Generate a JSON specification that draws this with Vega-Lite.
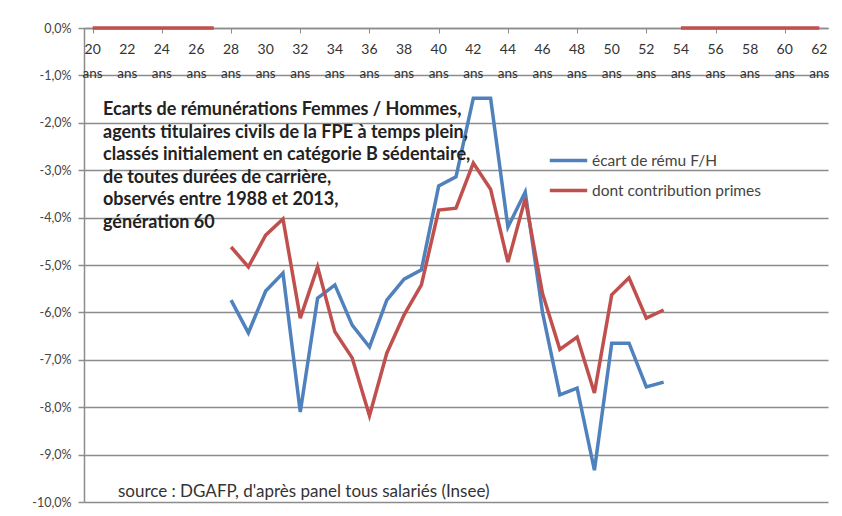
{
  "$schema": "https://vega.github.io/schema/vega-lite/v6.json",
  "width": 744,
  "height": 474,
  "autosize": {"type": "none"},
  "padding": {"left": 84, "top": 28, "right": 14, "bottom": 14},
  "background": "white",
  "config": {"view": {"stroke": null}, "font": "Lato"},
  "datasets": {
    "ticks": [{"t": 20}, {"t": 22}, {"t": 24}, {"t": 26}, {"t": 28}, {"t": 30}, {"t": 32}, {"t": 34}, {"t": 36}, {"t": 38}, {"t": 40}, {"t": 42}, {"t": 44}, {"t": 46}, {"t": 48}, {"t": 50}, {"t": 52}, {"t": 54}, {"t": 56}, {"t": 58}, {"t": 60}, {"t": 62}]
  },
  "data": {"values": [
    {"age": 28, "serie": "écart de rému F/H", "seg": "b", "ecart": -5.74},
    {"age": 29, "serie": "écart de rému F/H", "seg": "b", "ecart": -6.43},
    {"age": 30, "serie": "écart de rému F/H", "seg": "b", "ecart": -5.55},
    {"age": 31, "serie": "écart de rému F/H", "seg": "b", "ecart": -5.17},
    {"age": 32, "serie": "écart de rému F/H", "seg": "b", "ecart": -8.1},
    {"age": 33, "serie": "écart de rému F/H", "seg": "b", "ecart": -5.7},
    {"age": 34, "serie": "écart de rému F/H", "seg": "b", "ecart": -5.42},
    {"age": 35, "serie": "écart de rému F/H", "seg": "b", "ecart": -6.27},
    {"age": 36, "serie": "écart de rému F/H", "seg": "b", "ecart": -6.73},
    {"age": 37, "serie": "écart de rému F/H", "seg": "b", "ecart": -5.74},
    {"age": 38, "serie": "écart de rému F/H", "seg": "b", "ecart": -5.3},
    {"age": 39, "serie": "écart de rému F/H", "seg": "b", "ecart": -5.1},
    {"age": 40, "serie": "écart de rému F/H", "seg": "b", "ecart": -3.33},
    {"age": 41, "serie": "écart de rému F/H", "seg": "b", "ecart": -3.14},
    {"age": 42, "serie": "écart de rému F/H", "seg": "b", "ecart": -1.48},
    {"age": 43, "serie": "écart de rému F/H", "seg": "b", "ecart": -1.48},
    {"age": 44, "serie": "écart de rému F/H", "seg": "b", "ecart": -4.2},
    {"age": 45, "serie": "écart de rému F/H", "seg": "b", "ecart": -3.46},
    {"age": 46, "serie": "écart de rému F/H", "seg": "b", "ecart": -6.0},
    {"age": 47, "serie": "écart de rému F/H", "seg": "b", "ecart": -7.74},
    {"age": 48, "serie": "écart de rému F/H", "seg": "b", "ecart": -7.6},
    {"age": 49, "serie": "écart de rému F/H", "seg": "b", "ecart": -9.33},
    {"age": 50, "serie": "écart de rému F/H", "seg": "b", "ecart": -6.65},
    {"age": 51, "serie": "écart de rému F/H", "seg": "b", "ecart": -6.65},
    {"age": 52, "serie": "écart de rému F/H", "seg": "b", "ecart": -7.57},
    {"age": 53, "serie": "écart de rému F/H", "seg": "b", "ecart": -7.47},
    {"age": 20, "serie": "dont contribution primes", "seg": "a", "ecart": 0},
    {"age": 21, "serie": "dont contribution primes", "seg": "a", "ecart": 0},
    {"age": 22, "serie": "dont contribution primes", "seg": "a", "ecart": 0},
    {"age": 23, "serie": "dont contribution primes", "seg": "a", "ecart": 0},
    {"age": 24, "serie": "dont contribution primes", "seg": "a", "ecart": 0},
    {"age": 25, "serie": "dont contribution primes", "seg": "a", "ecart": 0},
    {"age": 26, "serie": "dont contribution primes", "seg": "a", "ecart": 0},
    {"age": 27, "serie": "dont contribution primes", "seg": "a", "ecart": 0},
    {"age": 28, "serie": "dont contribution primes", "seg": "b", "ecart": -4.62},
    {"age": 29, "serie": "dont contribution primes", "seg": "b", "ecart": -5.04},
    {"age": 30, "serie": "dont contribution primes", "seg": "b", "ecart": -4.37},
    {"age": 31, "serie": "dont contribution primes", "seg": "b", "ecart": -4.03},
    {"age": 32, "serie": "dont contribution primes", "seg": "b", "ecart": -6.12},
    {"age": 33, "serie": "dont contribution primes", "seg": "b", "ecart": -5.04},
    {"age": 34, "serie": "dont contribution primes", "seg": "b", "ecart": -6.41},
    {"age": 35, "serie": "dont contribution primes", "seg": "b", "ecart": -6.96},
    {"age": 36, "serie": "dont contribution primes", "seg": "b", "ecart": -8.18},
    {"age": 37, "serie": "dont contribution primes", "seg": "b", "ecart": -6.86},
    {"age": 38, "serie": "dont contribution primes", "seg": "b", "ecart": -6.05},
    {"age": 39, "serie": "dont contribution primes", "seg": "b", "ecart": -5.42},
    {"age": 40, "serie": "dont contribution primes", "seg": "b", "ecart": -3.84},
    {"age": 41, "serie": "dont contribution primes", "seg": "b", "ecart": -3.8},
    {"age": 42, "serie": "dont contribution primes", "seg": "b", "ecart": -2.85},
    {"age": 43, "serie": "dont contribution primes", "seg": "b", "ecart": -3.4},
    {"age": 44, "serie": "dont contribution primes", "seg": "b", "ecart": -4.94},
    {"age": 45, "serie": "dont contribution primes", "seg": "b", "ecart": -3.6},
    {"age": 46, "serie": "dont contribution primes", "seg": "b", "ecart": -5.6},
    {"age": 47, "serie": "dont contribution primes", "seg": "b", "ecart": -6.78},
    {"age": 48, "serie": "dont contribution primes", "seg": "b", "ecart": -6.52},
    {"age": 49, "serie": "dont contribution primes", "seg": "b", "ecart": -7.7},
    {"age": 50, "serie": "dont contribution primes", "seg": "b", "ecart": -5.63},
    {"age": 51, "serie": "dont contribution primes", "seg": "b", "ecart": -5.27},
    {"age": 52, "serie": "dont contribution primes", "seg": "b", "ecart": -6.12},
    {"age": 53, "serie": "dont contribution primes", "seg": "b", "ecart": -5.95},
    {"age": 54, "serie": "dont contribution primes", "seg": "c", "ecart": 0},
    {"age": 55, "serie": "dont contribution primes", "seg": "c", "ecart": 0},
    {"age": 56, "serie": "dont contribution primes", "seg": "c", "ecart": 0},
    {"age": 57, "serie": "dont contribution primes", "seg": "c", "ecart": 0},
    {"age": 58, "serie": "dont contribution primes", "seg": "c", "ecart": 0},
    {"age": 59, "serie": "dont contribution primes", "seg": "c", "ecart": 0},
    {"age": 60, "serie": "dont contribution primes", "seg": "c", "ecart": 0},
    {"age": 61, "serie": "dont contribution primes", "seg": "c", "ecart": 0},
    {"age": 62, "serie": "dont contribution primes", "seg": "c", "ecart": 0}
  ]},
  "layer": [
    {
      "mark": {"type": "line", "strokeWidth": 3.5},
      "encoding": {
        "x": {
          "field": "age", "type": "quantitative",
          "scale": {"domain": [19.5, 62.5], "nice": false, "zero": false},
          "axis": {
            "orient": "bottom", "offset": -474, "title": null, "grid": false, "labels": false,
            "values": [20,21,22,23,24,25,26,27,28,29,30,31,32,33,34,35,36,37,38,39,40,41,42,43,44,45,46,47,48,49,50,51,52,53,54,55,56,57,58,59,60,61,62],
            "domainColor": "#8c8c8c", "domainWidth": 1.5,
            "tickColor": "#8c8c8c", "tickSize": 5, "tickWidth": 1
          }
        },
        "y": {
          "field": "ecart", "type": "quantitative",
          "scale": {"domain": [-10, 0], "nice": false},
          "axis": {
            "title": null,
            "values": [-10,-9,-8,-7,-6,-5,-4,-3,-2,-1,0],
            "labelExpr": "(datum.value < 0 ? '-' : '') + replace(format(abs(datum.value), '.1f'), '.', ',') + '%'",
            "grid": true, "gridColor": "#8c8c8c", "gridWidth": 1.6,
            "domainColor": "#8c8c8c", "domainWidth": 1.5,
            "tickColor": "#8c8c8c", "tickSize": 6, "tickWidth": 1.5,
            "labelPadding": 7, "labelFontSize": 12.5, "labelColor": "#444"
          }
        },
        "color": {
          "field": "serie", "type": "nominal",
          "scale": {"domain": ["écart de rému F/H", "dont contribution primes"], "range": ["#4F81BD", "#C0504D"]},
          "legend": {
            "orient": "none", "legendX": 464, "legendY": 112, "title": null,
            "symbolType": "stroke", "symbolSize": 1400, "symbolStrokeWidth": 3.5,
            "rowPadding": 1, "labelOffset": 3, "labelFontSize": 15.5, "labelColor": "#444", "labelLimit": 300
          }
        },
        "detail": {"field": "seg"}
      }
    },
    {
      "data": {"name": "ticks"},
      "mark": {"type": "text", "align": "center", "baseline": "middle", "dy": 22, "fontSize": 14, "color": "#333"},
      "encoding": {
        "x": {"field": "t", "type": "quantitative"},
        "y": {"datum": 0},
        "text": {"field": "t", "type": "quantitative", "format": "d"}
      }
    },
    {
      "data": {"name": "ticks"},
      "mark": {"type": "text", "align": "center", "baseline": "middle", "dy": 46, "fontSize": 13.5, "color": "#333"},
      "encoding": {
        "x": {"field": "t", "type": "quantitative"},
        "y": {"datum": 0},
        "text": {"value": "ans"}
      }
    },
    {
      "data": {"values": [{}]},
      "mark": {"type": "text", "align": "left", "baseline": "top", "fontWeight": "bold", "fontSize": 18, "lineHeight": 22.5, "color": "#222"},
      "encoding": {
        "x": {"datum": 20.6},
        "y": {"datum": -1.55},
        "text": {"value": ["Ecarts de rémunérations Femmes / Hommes,", "agents titulaires civils de la FPE à temps plein,", "classés initialement en catégorie B sédentaire,", "de toutes durées de carrière,", "observés entre 1988 et 2013,", "génération 60"]}
      }
    },
    {
      "data": {"values": [{}]},
      "mark": {"type": "text", "align": "left", "baseline": "middle", "fontSize": 17, "color": "#333"},
      "encoding": {
        "x": {"datum": 21.46},
        "y": {"datum": -9.79},
        "text": {"value": "source : DGAFP, d'après panel tous salariés (Insee)"}
      }
    }
  ]
}
